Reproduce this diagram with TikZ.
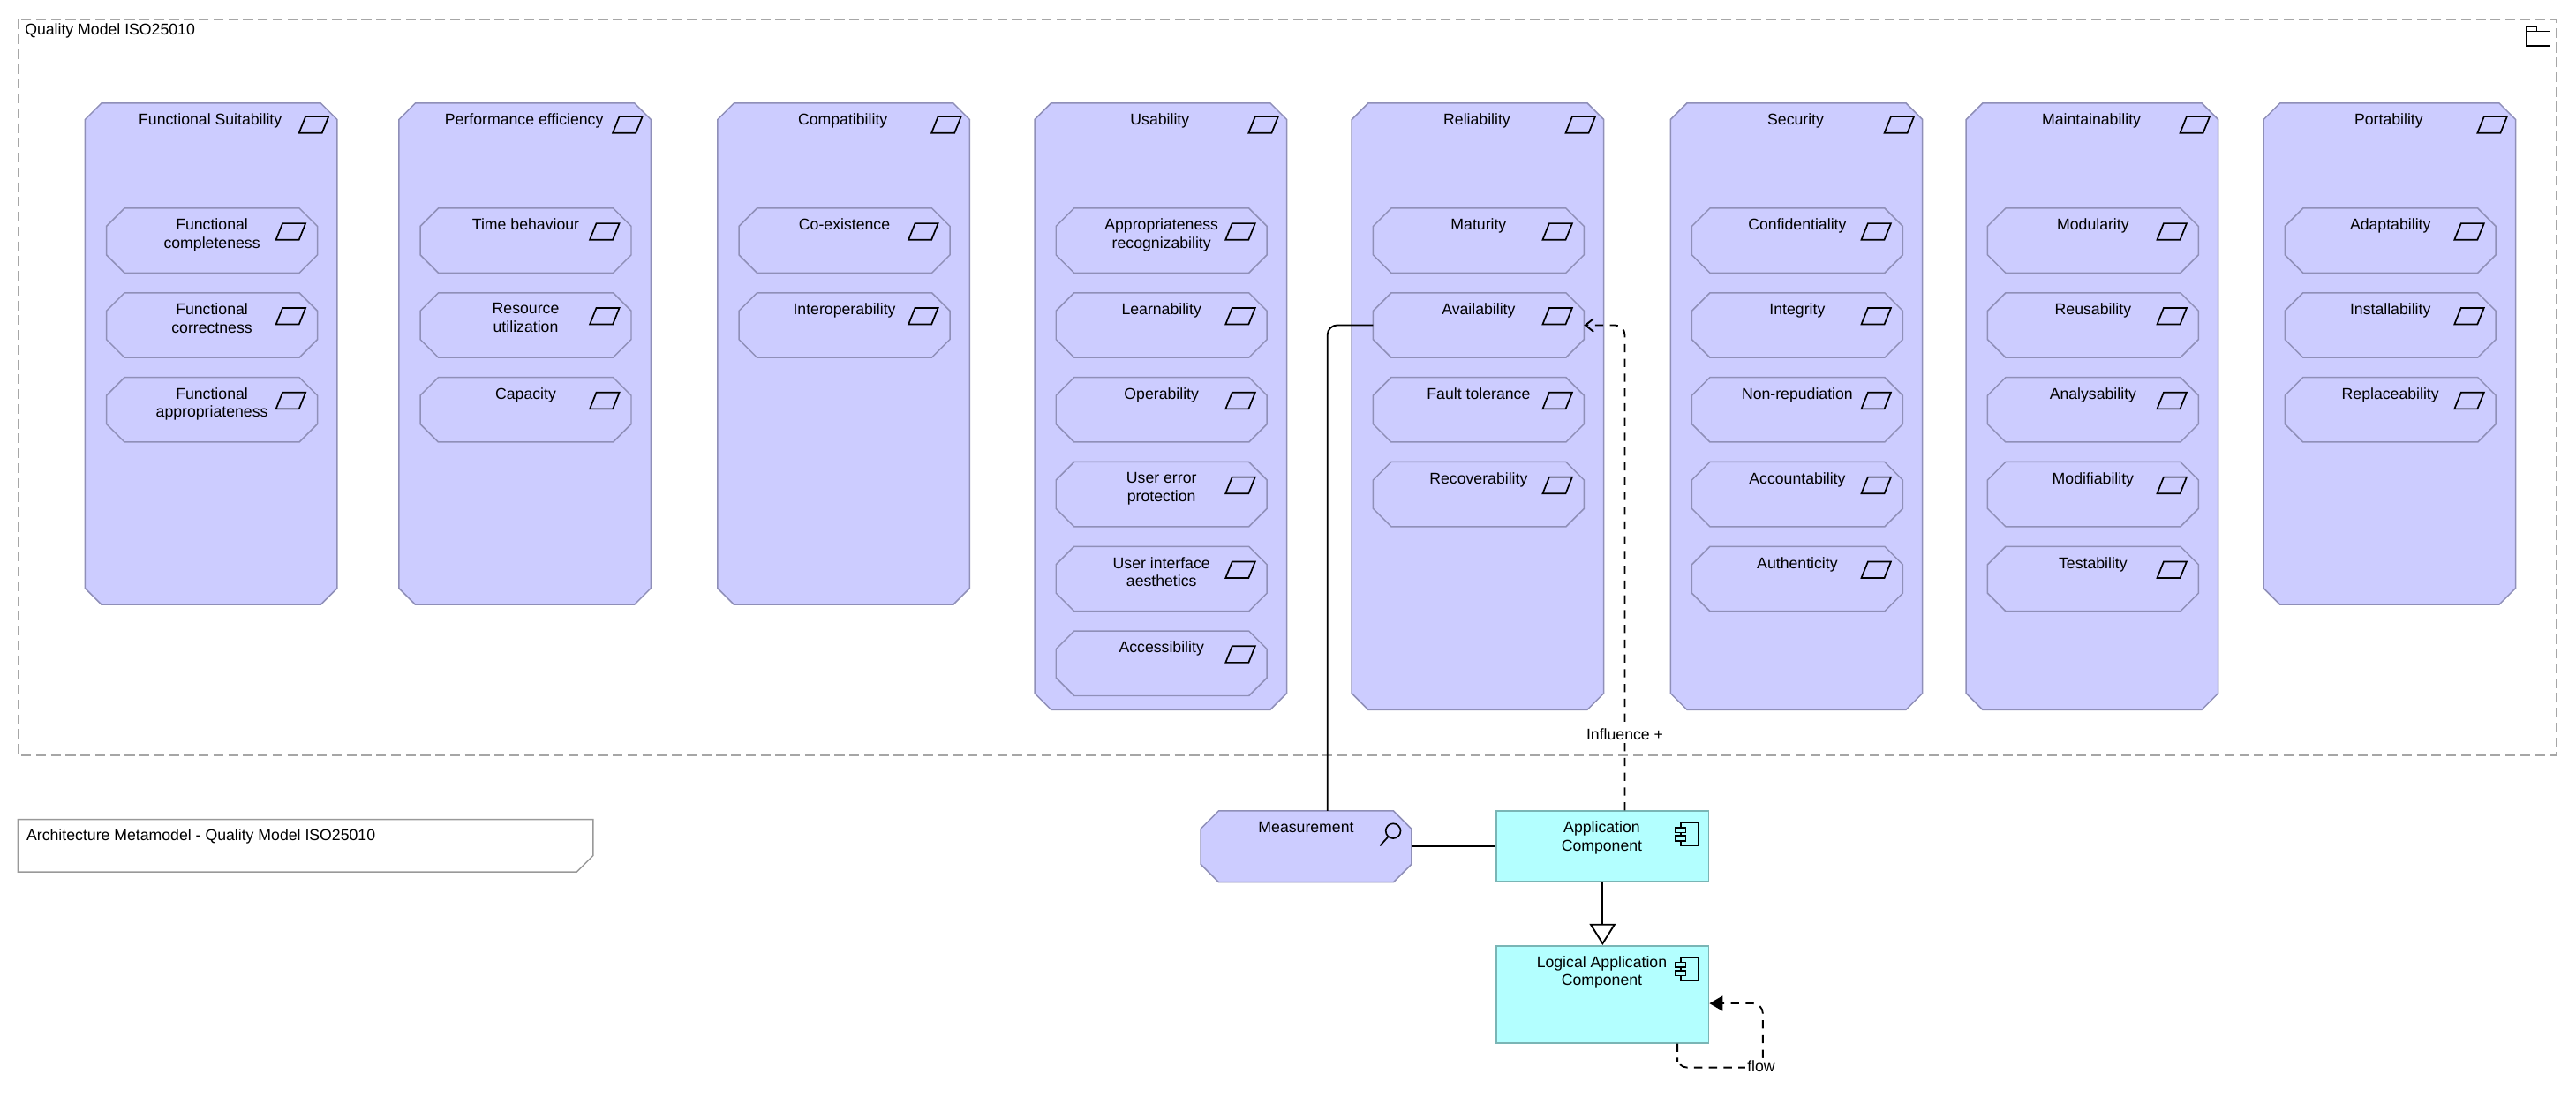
\documentclass[tikz,border=0pt]{standalone}
\usepackage{fontspec}
\setmainfont{Liberation Sans}
\usetikzlibrary{arrows.meta}
\definecolor{qfill}{HTML}{CCCCFF}
\definecolor{qdraw}{HTML}{8F8FB8}
\definecolor{afill}{HTML}{B3FFFF}
\definecolor{adraw}{HTML}{7AB5B5}
\tikzset{
  every node/.style={font=\fontsize{9.5}{11}\selectfont, inner sep=0pt},
  box/.style={rectangle, minimum width=#1, inner sep=0pt},
  qline/.style={draw=qdraw, fill=qfill, line width=0.8pt},
  txt/.style={align=center, anchor=north},
  comp/.style={draw=adraw, fill=afill, line width=1pt, minimum width=129pt},
  icon/.style={line width=0.9pt},
  conn/.style={line width=1pt},
  req/.pic={\draw[icon] (-5,-5)--(9,-5)--(5,5)--(-9,5)--cycle;},
  compicon/.pic={\draw[icon] (-4,-7) rectangle (7,7); \draw[icon,fill=afill] (-7,-4) rectangle (-1,-1); \draw[icon,fill=afill] (-7,1) rectangle (-1,4);}
}
% octagon: name, cx, cy, w, h, chamfer
\newcommand\oct[6]{%
  \node[box={#4}, minimum height={#5}] (#1) at ({#2},{#3}) {};
  \draw[qline] ([xshift=#6]#1.north west) -- ([xshift=-#6]#1.north east) -- ([yshift=-#6]#1.north east) -- ([yshift=#6]#1.south east) -- ([xshift=-#6]#1.south east) -- ([xshift=#6]#1.south west) -- ([yshift=#6]#1.south west) -- ([yshift=-#6]#1.north west) -- cycle;}
\newcommand\qcol[4]{% name, x, bottom, title
  \oct{#1}{#2+76.5}{(63+#3)/2}{153pt}{#3-63}{10pt}
  \node[txt] at ({#2+76},69) {#4};
  \pic at ({#2+139},76) {req};}
\newcommand\qitm[4]{% name, colx, row, text
  \oct{#1}{#2+77}{146.5+51.5*#3}{128pt}{39pt}{11pt}
  \node[txt] at ({#2+77},{133+51.5*#3}) {#4};
  \pic at ({#2+125},{141+51.5*#3}) {req};}
\begin{document}
\begin{tikzpicture}[x=1pt,y=-1pt]
\useasboundingbox (0,0) rectangle (1568,676);
% group
\draw[gray!70, dashed, dash pattern=on 6pt off 3pt, line width=0.8pt] (11,12) rectangle (1556,460);
\node[anchor=north west] (grp) at (15,14) {Quality Model ISO25010};
\draw[line width=0.8pt] (1538,19) rectangle (1552,28);
\draw[line width=0.8pt] (1538,19) -- (1538,16) -- (1544,16) -- (1544,19);
% columns
\qcol{fs}{52}{368}{Functional Suitability}
\qitm{fs1}{52}{0}{Functional\\completeness}
\qitm{fs2}{52}{1}{Functional\\correctness}
\qitm{fs3}{52}{2}{Functional\\appropriateness}
\qcol{pe}{243}{368}{Performance efficiency}
\qitm{pe1}{243}{0}{Time behaviour}
\qitm{pe2}{243}{1}{Resource\\utilization}
\qitm{pe3}{243}{2}{Capacity}
\qcol{co}{437}{368}{Compatibility}
\qitm{co1}{437}{0}{Co-existence}
\qitm{co2}{437}{1}{Interoperability}
\qcol{us}{630}{432}{Usability}
\qitm{us1}{630}{0}{Appropriateness\\recognizability}
\qitm{us2}{630}{1}{Learnability}
\qitm{us3}{630}{2}{Operability}
\qitm{us4}{630}{3}{User error\\protection}
\qitm{us5}{630}{4}{User interface\\aesthetics}
\qitm{us6}{630}{5}{Accessibility}
\qcol{re}{823}{432}{Reliability}
\qitm{re1}{823}{0}{Maturity}
\qitm{avail}{823}{1}{Availability}
\qitm{re3}{823}{2}{Fault tolerance}
\qitm{re4}{823}{3}{Recoverability}
\qcol{se}{1017}{432}{Security}
\qitm{se1}{1017}{0}{Confidentiality}
\qitm{se2}{1017}{1}{Integrity}
\qitm{se3}{1017}{2}{Non-repudiation}
\qitm{se4}{1017}{3}{Accountability}
\qitm{se5}{1017}{4}{Authenticity}
\qcol{ma}{1197}{432}{Maintainability}
\qitm{ma1}{1197}{0}{Modularity}
\qitm{ma2}{1197}{1}{Reusability}
\qitm{ma3}{1197}{2}{Analysability}
\qitm{ma4}{1197}{3}{Modifiability}
\qitm{ma5}{1197}{4}{Testability}
\qcol{po}{1378}{368}{Portability}
\qitm{po1}{1378}{0}{Adaptability}
\qitm{po2}{1378}{1}{Installability}
\qitm{po3}{1378}{2}{Replaceability}
% note
\draw[gray!80, line width=0.8pt] (11,499) -- (361,499) -- (361,521) -- (351,531) -- (11,531) -- cycle;
\node[anchor=north west] (note) at (16,505) {Architecture Metamodel - Quality Model ISO25010};
% measurement
\oct{meas}{795}{515.5}{128pt}{43pt}{11pt}
\node[txt] at (795,500) {Measurement};
\draw[icon] (848,506) circle (4.5);
\draw[icon] (845,509.5) -- (840,515);
% components
\node[comp, minimum height=43pt] (app) at (975.5,515.5) {};
\node[txt] at (975,500) {Application\\Component};
\pic at (1027,508) {compicon};
\node[comp, minimum height=59pt] (log) at (975.5,605.5) {};
\node[txt] at (975,582) {Logical Application\\Component};
\pic at (1027,590) {compicon};
% connectors
\draw[conn, rounded corners=6pt] ([xshift=13pt]meas.north) |- (avail.west);
\draw[conn] (meas.east) -- (app.west);
\draw[conn, dashed, dash pattern=on 5pt off 4pt, rounded corners=6pt, -{Straight Barb[length=5pt,width=8pt]}] ([xshift=13.5pt]app.north) |- (avail.east);
\node[fill=white, inner sep=1.5pt] (inf) at (989,447) {Influence +};
\draw[conn, -{Triangle[open,length=13pt,width=16pt]}] (app.south) -- (log.north);
\coordinate (f1) at (1021,650);
\coordinate (f2) at (1073,611);
\draw[conn, dashed, dash pattern=on 5pt off 4pt, rounded corners=6pt, -{Triangle[length=8pt,width=9pt]}] ([xshift=45.5pt]log.south) |- (f1) -| (f2) -- (log.east |- f2);
\node[fill=white, inner sep=1pt] (flow) at (1072,649) {flow};
\end{tikzpicture}
\end{document}
